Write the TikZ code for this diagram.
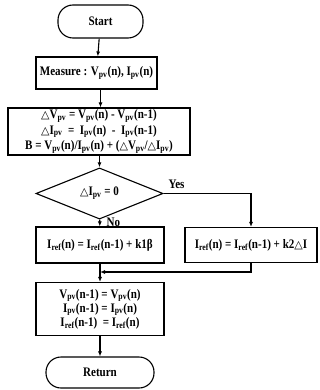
\documentclass[tikz,border=0pt]{standalone}
\usepackage{fontspec}
\setmainfont[FakeStretch=0.85]{Liberation Serif}
\newfontfamily\symf{DejaVu Sans}
\usetikzlibrary{shapes.geometric,arrows.meta}
\newcommand\sbs[1]{\textsubscript{#1}}
\newcommand\tri{{\symf\mdseries\fontsize{11}{12}\selectfont △}}
\begin{document}
\begin{tikzpicture}[x=1pt,y=-1pt,
  every node/.style={font=\bfseries\fontsize{13}{15.5}\selectfont, line width=1.1pt, inner sep=0pt, align=center},
  box/.style={draw, rectangle},
  pill/.style={draw, rectangle, rounded corners=15pt},
  dec/.style={draw, diamond},
  conn/.style={line width=1.1pt, -{Latex[length=5pt,width=4pt]}},
  lbl/.style={font=\bfseries\fontsize{13}{14}\selectfont}]
\fill[white] (0,0) rectangle (320,390);
\useasboundingbox (0,0) rectangle (320,390);
\node[pill, minimum width=85pt, minimum height=33pt] (start) at (100.5,21.5) {Start};
\node[box, minimum width=121pt, minimum height=32pt] (meas) at (96.5,73) {Measure : V\sbs{pv}(n), I\sbs{pv}(n)};
\node[box, minimum width=182pt, minimum height=47pt] (calc) at (99,131.5) {\tri V\sbs{pv} = V\sbs{pv}(n) - V\sbs{pv}(n-1)\\
\tri I\sbs{pv}\ \ = \ I\sbs{pv}(n)\ \ - \ I\sbs{pv}(n-1)\\
B = V\sbs{pv}(n)/I\sbs{pv}(n) + (\tri V\sbs{pv}/\tri I\sbs{pv})};
\node[dec, minimum width=127pt, minimum height=37pt] (dec) at (99.5,193.5) {\tri I\sbs{pv} = 0};
\node[box, minimum width=128pt, minimum height=36pt] (left) at (100,245) {I\sbs{ref}(n) = I\sbs{ref}(n-1) + k1β};
\node[box, minimum width=132pt, minimum height=35pt] (right) at (251,245) {I\sbs{ref}(n) = I\sbs{ref}(n-1) + k2\tri I};
\node[box, minimum width=128pt, minimum height=53pt] (upd) at (100,309) {V\sbs{pv}(n-1) = V\sbs{pv}(n)\\[-1.5pt]
I\sbs{pv}(n-1) = I\sbs{pv}(n)\\[-1.5pt]
I\sbs{ref}(n-1)\ \ = I\sbs{ref}(n)};
\node[pill, minimum width=108pt, minimum height=31pt] (ret) at (100,372.5) {Return};
\coordinate (mrg) at (100,272);
\coordinate (rc) at (right.south|-mrg);
\draw[conn] (start) -- (meas);
\draw[conn] (meas.south-|start) -- (calc.north-|start);
\draw[conn] (calc.south-|dec) -- (dec);
\draw[conn] (dec) -- (left);
\draw[conn] (dec.east) -| (right.north);
\draw[conn] (right.south) -- (rc) -- (mrg);
\draw[conn] (left.south) -- (upd.north);
\draw[conn] (upd) -- (ret);
\node[lbl, anchor=south west] (yes) at (168,189) {Yes};
\node[lbl, anchor=west] (no) at (106,222) {No};
\end{tikzpicture}
\end{document}
